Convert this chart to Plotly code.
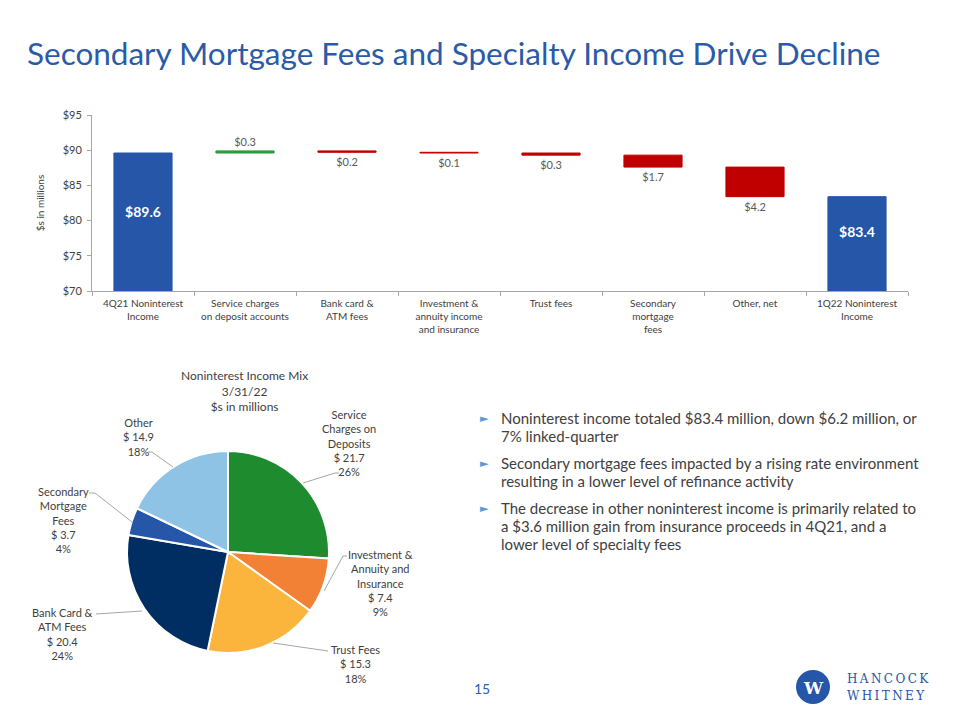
import plotly.graph_objects as go

# the page body has an 8px margin; draw a 944x704 figure and map reference pixels into it
OFF = 8
W, H = 944, 704
def px(x): return (x - OFF) / W
def py(y): return 1 - (y - OFF) / H

# ---------------- data ----------------
wf_categories = ["4Q21 Noninterest<br>Income", "Service charges<br>on deposit accounts",
                 "Bank card &<br>ATM fees", "Investment &<br>annuity income<br>and insurance",
                 "Trust fees", "Secondary<br>mortgage<br>fees", "Other, net",
                 "1Q22 Noninterest<br>Income"]
wf_values = [89.6, 0.3, -0.2, -0.1, -0.3, -1.7, -4.2, 0]
wf_measures = ["absolute", "relative", "relative", "relative", "relative", "relative", "relative", "total"]
y_ticks = [70, 75, 80, 85, 90, 95]
y_ticktext = ["$70", "$75", "$80", "$85", "$90", "$95"]

pie_labels = ["Service<br>Charges on<br>Deposits", "Investment &<br>Annuity and<br>Insurance",
              "Trust Fees", "Bank Card &<br>ATM Fees", "Secondary<br>Mortgage<br>Fees", "Other"]
pie_values = [21.7, 7.4, 15.3, 20.4, 3.7, 14.9]
pie_pcts = [26, 9, 18, 24, 4, 18]

bullets = [
    ["Noninterest income totaled $83.4 million, down $6.2 million, or", "7% linked-quarter"],
    ["Secondary mortgage fees impacted by a rising rate environment", "resulting in a lower level of refinance activity"],
    ["The decrease in other noninterest income is primarily related to",
     "a $3.6 million gain from insurance proceeds in 4Q21, and a", "lower level of specialty fees"],
]

# ---------------- styles ----------------
FONT = "Lato"
TXT = "#404040"
BLUE = "#2556A8"
GREEN = "#2E9B3A"
RED = "#C00000"
pie_colors = ["#1E8C2E", "#F28136", "#FBB53D", "#002D62", "#2556A8", "#8EC3E6"]
Y_MIN, Y_MAX = 70, 95

running = 0
wf_text = []
tot_x, tot_y, tot_text = [], [], []
for c, v, m in zip(wf_categories, wf_values, wf_measures):
    if m == "absolute":
        running = v
        wf_text.append("")
        tot_x.append(c); tot_y.append((Y_MIN + running) / 2 + 1.2); tot_text.append(f"<b>${running:.1f}</b>")
    elif m == "relative":
        running += v
        wf_text.append(f"${abs(v):.1f}")
    else:
        wf_text.append("")
        tot_x.append(c); tot_y.append((Y_MIN + running) / 2 + 1.5); tot_text.append(f"<b>${running:.1f}</b>")

fig = go.Figure()
fig.add_trace(go.Waterfall(
    x=wf_categories, y=wf_values, measure=wf_measures,
    text=wf_text, textposition="outside",
    constraintext="none", cliponaxis=False,
    outsidetextfont=dict(color="#595959", size=11, family=FONT),
    increasing=dict(marker=dict(color=GREEN, line=dict(color=GREEN, width=1))),
    decreasing=dict(marker=dict(color=RED, line=dict(color=RED, width=1))),
    totals=dict(marker=dict(color=BLUE, line=dict(color=BLUE, width=1))),
    connector=dict(visible=False), showlegend=False, hoverinfo="skip",
))
fig.add_trace(go.Scatter(
    x=tot_x, y=tot_y, text=tot_text, mode="text", textposition="middle center",
    textfont=dict(color="white", size=14, family=FONT), showlegend=False, hoverinfo="skip",
))

fig.add_trace(go.Pie(
    values=pie_values, labels=[l.replace("<br>", " ") for l in pie_labels],
    sort=False, direction="clockwise", rotation=0, automargin=False,
    marker=dict(colors=pie_colors, line=dict(color="white", width=2)),
    textinfo="none", showlegend=False, hoverinfo="label+value",
    domain=dict(x=[px(127), px(329)], y=[py(653), py(451)]),
))

fig.update_layout(
    width=W, height=H, margin=dict(l=0, r=0, t=0, b=0, pad=0, autoexpand=False),
    paper_bgcolor="white", plot_bgcolor="white", showlegend=False,
    font=dict(family=FONT, color=TXT),
    waterfallgap=0.43,
    xaxis=dict(domain=[px(92), px(908)], showline=True, linecolor="#A6A6A6", linewidth=1, automargin=False,
               ticks="outside", tickson="boundaries", ticklen=4, tickcolor="#A6A6A6", ticklabelstandoff=3,
               tickfont=dict(size=10, color=TXT, family=FONT), showgrid=False, fixedrange=True),
    yaxis=dict(domain=[py(291), py(115)], range=[Y_MIN, Y_MAX], tickvals=y_ticks, ticktext=y_ticktext,
               showline=True, linecolor="#A6A6A6", linewidth=1, ticks="outside", ticklen=4, automargin=False,
               tickcolor="#A6A6A6", ticklabelstandoff=3, tickfont=dict(size=11, color=TXT, family=FONT),
               showgrid=False, zeroline=False,
               title=dict(text="$s in millions", font=dict(size=10, color=TXT, family=FONT), standoff=16)),
)

def note(text, x, y, size, color, family=FONT, xa="center", ya="middle", align="center"):
    return dict(text=text, x=px(x), y=py(y), xref="paper", yref="paper", xanchor=xa, yanchor=ya,
                showarrow=False, align=align, font=dict(size=size, color=color, family=family))

ann = []
ann.append(note("Secondary Mortgage Fees and Specialty Income Drive Decline", 25, 53, 31.5, "#2B5BA8", xa="left"))
ann.append(note("Noninterest Income Mix<br>3/31/22<br>$s in millions", 244, 391, 12, TXT))
pie_label_pos = [(349, 443), (380, 583), (355, 664), (62, 634), (63, 520), (138, 437)]
for lab, val, pct, (lx, ly) in zip(pie_labels, pie_values, pie_pcts, pie_label_pos):
    ann.append(note(f"{lab}<br>$ {val}<br>{pct}%", lx, ly, 11, TXT))
by = 418
for para in bullets:
    ann.append(note("►", 484, by, 11, "#5B9BD5", family="DejaVu Sans"))
    for line in para:
        ann.append(note(line, 499, by, 15, TXT, xa="left", align="left"))
        by += 18
    by += 9
ann.append(note("15", 482, 688, 14, "#2E5FAA"))
ann.append(note("<b>W</b>", 813, 688, 17, "white", family="DejaVu Serif"))
ann.append(note("H\u2009A\u2009N\u2009C\u2009O\u2009C\u2009K", 845, 679, 12, "#2556A8", family="DejaVu Serif", xa="left"))
ann.append(note("W\u2009H\u2009I\u2009T\u2009N\u2009E\u2009Y", 845, 696, 12, "#2556A8", family="DejaVu Serif", xa="left"))
fig.update_layout(annotations=ann)

shapes = []
leaders = [[(303, 483), (335, 473), (339, 473)],
           [(324, 591), (343, 556), (347, 556)],
           [(273, 643), (328, 651)],
           [(142, 611), (96, 614)],
           [(132, 522), (95, 493), (89, 493)],
           [(173, 467), (152, 452), (148, 452)]]
for pts in leaders:
    path = "M " + " L ".join(f"{px(x)},{py(y)}" for x, y in pts)
    shapes.append(dict(type="path", path=path, xref="paper", yref="paper",
                       line=dict(color="#A6A6A6", width=1)))
shapes.append(dict(type="circle", xref="paper", yref="paper", x0=px(796), x1=px(830), y0=py(704), y1=py(670),
                   fillcolor="#2556A8", line=dict(width=0), layer="below"))
fig.update_layout(shapes=shapes)

fig.write_html("out.html")
